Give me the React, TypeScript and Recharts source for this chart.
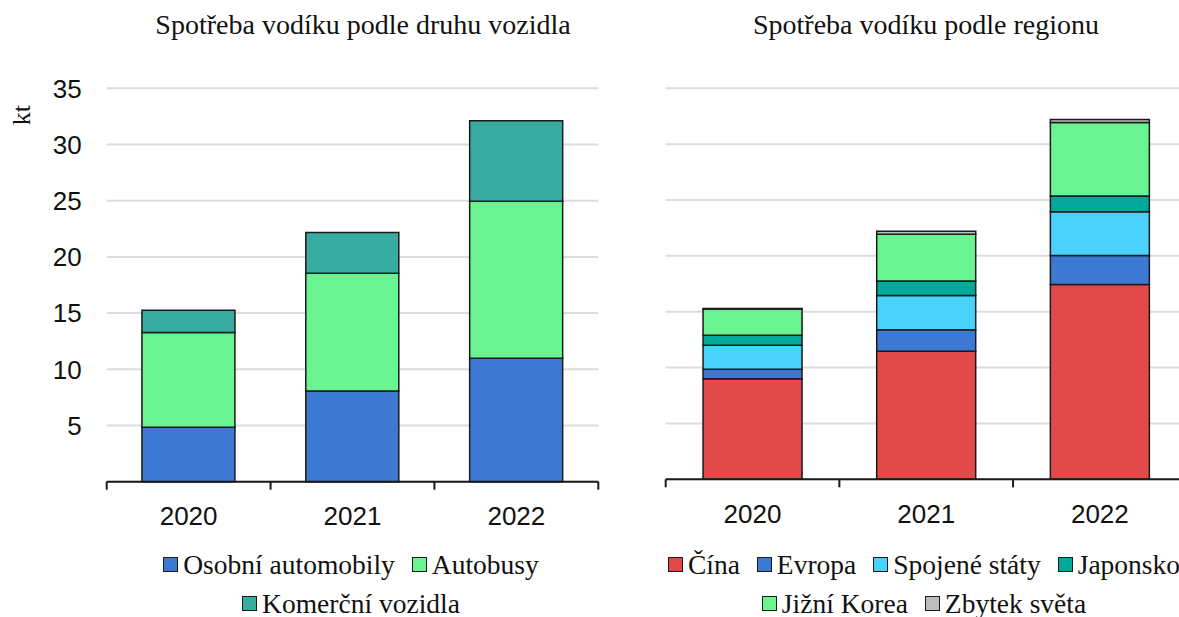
import React from 'react';
import { BarChart, Bar, XAxis, YAxis, CartesianGrid, Label } from 'recharts';

const years = ['2020', '2021', '2022'];
const yTicks = [5, 10, 15, 20, 25, 30, 35];

// podle druhu vozidla (kt)
const osobni = [4.85, 8.07, 10.98];
const autobusy = [8.43, 10.48, 13.98];
const komercni = [1.98, 3.61, 7.16];

// podle regionu (kt)
const cina = [9.0, 11.46, 17.44];
const evropa = [0.86, 1.93, 2.59];
const usa = [2.14, 3.07, 3.93];
const japonsko = [0.9, 1.28, 1.4];
const korea = [2.35, 4.19, 6.58];
const zbytek = [0.03, 0.27, 0.26];

const SERIF = '"Liberation Serif", "Times New Roman", serif';
const SANS = '"Liberation Sans", Arial, sans-serif';
const INK = '#1a1a1a';

const vehicleSeries = [
  { key: 'osobni', name: 'Osobní automobily', color: '#3d78d3', values: osobni },
  { key: 'autobusy', name: 'Autobusy', color: '#69f491', values: autobusy },
  { key: 'komercni', name: 'Komerční vozidla', color: '#38ad9f', values: komercni },
];

const regionSeries = [
  { key: 'cina', name: 'Čína', color: '#e24a4a', values: cina },
  { key: 'evropa', name: 'Evropa', color: '#3d78d3', values: evropa },
  { key: 'usa', name: 'Spojené státy', color: '#49d2fc', values: usa },
  { key: 'japonsko', name: 'Japonsko', color: '#00aa9b', values: japonsko },
  { key: 'korea', name: 'Jižní Korea', color: '#69f491', values: korea },
  { key: 'zbytek', name: 'Zbytek světa', color: '#bdbdbd', values: zbytek },
];

type Series = { key: string; name: string; color: string; values: number[] };

const toRows = (series: Series[]) =>
  years.map((year, i) => {
    const row: { [k: string]: string | number } = { year };
    series.forEach((s) => {
      row[s.key] = s.values[i];
    });
    return row;
  });

const vehicleData = toRows(vehicleSeries);
const regionData = toRows(regionSeries);

// x axis tick: category label plus tick marks on the category boundaries
const makeTick = (band: number, count: number) => (props: any) => {
  const { x, y, payload, index } = props;
  return (
    <g>
      <line x1={x - band / 2} x2={x - band / 2} y1={y} y2={y + 8} stroke={INK} strokeWidth={2} />
      {index === count - 1 && (
        <line x1={x + band / 2} x2={x + band / 2} y1={y} y2={y + 8} stroke={INK} strokeWidth={2} />
      )}
      <text x={x} y={y + 25} dy="0.71em" textAnchor="middle" fontFamily={SANS} fontSize={26} fill="#111">
        {payload.value}
      </text>
    </g>
  );
};

const LegendBox = ({ rows, center, top }: { rows: Series[][]; center: number; top: number }) => (
  <div style={{ position: 'absolute', left: center - 300, top, width: 600 }}>
    {rows.map((row, r) => (
      <div
        key={r}
        style={{ display: 'flex', justifyContent: 'center', alignItems: 'center', height: 39, gap: 17 }}
      >
        {row.map((s) => (
          <div key={s.key} style={{ display: 'flex', alignItems: 'center' }}>
            <span
              style={{
                display: 'inline-block',
                width: 13,
                height: 13,
                background: s.color,
                border: `1.5px solid ${INK}`,
                marginRight: 5,
              }}
            />
            <span style={{ fontFamily: SERIF, fontSize: 27.5, color: '#111', whiteSpace: 'nowrap' }}>{s.name}</span>
          </div>
        ))}
      </div>
    ))}
  </div>
);

const Title = ({ text, center }: { text: string; center: number }) => (
  <div
    style={{
      position: 'absolute',
      left: center - 300,
      width: 600,
      top: 9,
      textAlign: 'center',
      fontFamily: SERIF,
      fontSize: 28,
      color: '#111',
    }}
  >
    {text}
  </div>
);

const CHART_W = 600;
const CHART_H = 617;
const LEFT = { top: 88.3, right: 1.7, left: 0, bottom: 75.3, yAxisW: 106.7 };
const RIGHT = { top: 88.3, right: 13.3, left: 65.7, bottom: 77.7 };
const leftBand = (CHART_W - LEFT.right - LEFT.left - LEFT.yAxisW) / years.length;
const rightBand = (CHART_W - RIGHT.right - RIGHT.left) / years.length;

const App = () => (
  <div style={{ position: 'absolute', left: 0, top: 0, width: 1179, height: 617, overflow: 'hidden', background: '#fff' }}>
    <Title text="Spotřeba vodíku podle druhu vozidla" center={363} />
    <Title text="Spotřeba vodíku podle regionu" center={926} />

    <div style={{ position: 'absolute', left: 0, top: 0 }}>
      <BarChart
        width={CHART_W}
        height={CHART_H}
        data={vehicleData}
        barCategoryGap="21.5%"
        margin={{ top: LEFT.top, right: LEFT.right, left: LEFT.left, bottom: LEFT.bottom }}
      >
        <CartesianGrid vertical={false} stroke="#dcdcdc" strokeWidth={2} />
        <YAxis
          width={LEFT.yAxisW}
          domain={[0, 35]}
          ticks={yTicks}
          axisLine={false}
          tickLine={false}
          tickSize={0}
          tickMargin={25}
          tick={{ fontFamily: SANS, fontSize: 26, fill: '#111' }}
        >
          <Label
            content={() => (
              <text
                x={21.5}
                y={115}
                transform="rotate(-90 21.5 115)"
                textAnchor="middle"
                dominantBaseline="central"
                fontFamily={SERIF}
                fontSize={26}
                fill="#111"
              >
                kt
              </text>
            )}
          />
        </YAxis>
        <XAxis
          dataKey="year"
          height={60}
          axisLine={{ stroke: INK, strokeWidth: 2 }}
          tickLine={false}
          tickSize={0}
          tickMargin={0}
          interval={0}
          tick={makeTick(leftBand, years.length)}
        />
        {vehicleSeries.map((s) => (
          <Bar
            key={s.key}
            dataKey={s.key}
            name={s.name}
            stackId="a"
            fill={s.color}
            stroke={INK}
            strokeWidth={1.5}
            isAnimationActive={false}
          />
        ))}
      </BarChart>
    </div>

    <div style={{ position: 'absolute', left: 600, top: 0 }}>
      <BarChart
        width={CHART_W}
        height={CHART_H}
        data={regionData}
        barCategoryGap="21.5%"
        margin={{ top: RIGHT.top, right: RIGHT.right, left: RIGHT.left, bottom: RIGHT.bottom }}
      >
        <CartesianGrid vertical={false} stroke="#dcdcdc" strokeWidth={2} />
        <YAxis hide domain={[0, 35]} ticks={yTicks} />
        <XAxis
          dataKey="year"
          height={60}
          axisLine={{ stroke: INK, strokeWidth: 2 }}
          tickLine={false}
          tickSize={0}
          tickMargin={0}
          interval={0}
          tick={makeTick(rightBand, years.length)}
        />
        {regionSeries.map((s) => (
          <Bar
            key={s.key}
            dataKey={s.key}
            name={s.name}
            stackId="b"
            fill={s.color}
            stroke={INK}
            strokeWidth={1.5}
            isAnimationActive={false}
          />
        ))}
      </BarChart>
    </div>

    <LegendBox rows={[vehicleSeries.slice(0, 2), vehicleSeries.slice(2)]} center={351} top={545} />
    <LegendBox rows={[regionSeries.slice(0, 4), regionSeries.slice(4)]} center={924} top={545} />
  </div>
);

export default App;
